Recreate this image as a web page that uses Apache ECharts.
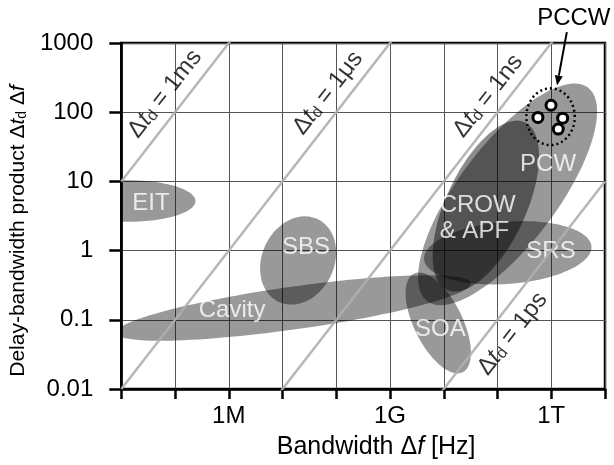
<!DOCTYPE html>
<html>
<head>
<meta charset="utf-8">
<title>Delay-bandwidth product</title>
<script src="https://cdn.jsdelivr.net/npm/echarts@6/dist/echarts.min.js"></script>
<style>
  html, body { margin: 0; padding: 0; background: #fff; }
  #main { width: 614px; height: 465px; }
</style>
</head>
<body>
<div id="main"></div>
<script>
// axis ranges: bandwidth [Hz] and delay-bandwidth product
const xMin = 1e4, xMax = 1e13;
const yMin = 0.01, yMax = 1000;
const xLabelExp = [6, 9, 12];
const xLabelText = ['1M', '1G', '1T'];

// lines of constant delay
const delays = [1e-3, 1e-6, 1e-9, 1e-12];
const delayNames = ['1ms', '1μs', '1ns', '1ps'];
const delayLabelF = [6.5e4, 7.0e7, 6.7e10, 1.9e11];
const delayLabelY = [185, 190, 172, 0.063];

// regions: centre, half axes (decades), tilt in log-log space (deg)
const regionNames = ['EIT', 'SBS', 'Cavity', 'SOA', 'PCW', 'CROW', 'SRS'];
const regionF = [1.35e4, 1.95e7, 1.6e7, 7.9e9, 1.54e11, 6.07e10, 1.55e11];
const regionY = [5.2, 0.72, 0.148, 0.09, 6.5, 4.4, 0.93];
const regionA = [1.25, 0.74, 3.32, 0.85, 2.16, 1.42, 1.56];
const regionB = [0.30, 0.60, 0.31, 0.42, 0.82, 0.70, 0.45];
const regionTilt = [0, 30, 6.2, -53.6, 43.5, 55.5, 3.2];

// region labels
const labelText = ['EIT', 'SBS', 'Cavity', 'SOA', 'PCW', 'CROW\n& APF', 'SRS'];
const labelF = [3.56e4, 2.74e7, 1.15e6, 8.67e9, 8.73e11, 8.4e9, 9.9e11];
const labelY = [4.85, 1.10, 0.139, 0.072, 17.5, 2.96, 0.97];

// PCCW: dotted outline and four cavities
const pccwOutline = [9.7e11, 86, 0.45, 0.41, 0];
const pccwF = [9.9e11, 5.65e11, 1.63e12, 1.35e12];
const pccwY = [126, 84, 82, 57];
const pccwArrow = [1.95e12, 1435, 1.28e12, 243];
const pccwLabel = [2.63e12, 2275];

const FONT = '"Liberation Sans", Arial, Helvetica, sans-serif';

function richStyle(size, color) {
  return {
    i: { fontStyle: 'italic', fontSize: size, fontFamily: FONT, color: color },
    s: { fontSize: Math.round(size * 0.65), fontFamily: FONT, color: color, verticalAlign: 'bottom' }
  };
}

// outline of an ellipse given in log-log space, as pixel points
function ellipsePoints(api, f, y, a, b, tilt) {
  var cx = Math.log10(f), cy = Math.log10(y);
  var th = tilt * Math.PI / 180;
  var pts = [];
  for (var i = 0; i < 120; i++) {
    var t = i / 120 * 2 * Math.PI;
    var lx = cx + a * Math.cos(t) * Math.cos(th) - b * Math.sin(t) * Math.sin(th);
    var ly = cy + a * Math.cos(t) * Math.sin(th) + b * Math.sin(t) * Math.cos(th);
    pts.push(api.coord([Math.pow(10, lx), Math.pow(10, ly)]));
  }
  return pts;
}

function gridClip(params) {
  var cs = params.coordSys;
  return { type: 'rect', shape: { x: cs.x, y: cs.y, width: cs.width, height: cs.height } };
}

function renderRegion(params, api) {
  var name = regionNames[params.dataIndex];
  return {
    type: 'polygon',
    shape: { points: ellipsePoints(api, api.value(0), api.value(1), api.value(2), api.value(3), api.value(4)) },
    style: { fill: name === 'CROW' ? 'rgba(0,0,0,0.45)' : 'rgba(0,0,0,0.4)' },
    clipPath: gridClip(params)
  };
}

function renderOutline(params, api) {
  return {
    type: 'polygon',
    shape: { points: ellipsePoints(api, api.value(0), api.value(1), api.value(2), api.value(3), api.value(4)) },
    style: { fill: 'none', stroke: '#000', lineWidth: 2.5, lineDash: [2, 3] }
  };
}

function renderArrow(params, api) {
  var p0 = api.coord([api.value(0), api.value(1)]);
  var p1 = api.coord([api.value(2), api.value(3)]);
  var dx = p1[0] - p0[0], dy = p1[1] - p0[1];
  var len = Math.sqrt(dx * dx + dy * dy);
  var ux = dx / len, uy = dy / len;
  var head = 10, half = 4;
  var bx = p1[0] - ux * head, by = p1[1] - uy * head;
  var tp = api.coord(pccwLabel);
  return {
    type: 'group',
    children: [
      { type: 'line', shape: { x1: p0[0], y1: p0[1], x2: bx, y2: by }, style: { stroke: '#000', lineWidth: 2 } },
      { type: 'polygon', shape: { points: [p1, [bx - uy * half, by + ux * half], [bx + uy * half, by - ux * half]] }, style: { fill: '#000' } },
      { type: 'text', x: tp[0], y: tp[1], style: { text: 'PCCW', fontSize: 24, fontFamily: FONT, fill: '#000', align: 'center', verticalAlign: 'middle' } }
    ]
  };
}

var regionData = [];
for (var i = 0; i < regionNames.length; i++) {
  regionData.push([regionF[i], regionY[i], regionA[i], regionB[i], regionTilt[i]]);
}

var delaySeries = delays.map(function (d) {
  return {
    type: 'line',
    data: [[xMin, d * xMin], [xMax, d * xMax]],
    showSymbol: false,
    silent: true,
    lineStyle: { color: 'rgba(175,175,175,0.9)', width: 2.5 }
  };
});

var chart = echarts.init(document.getElementById('main'));

var option = {
  animation: false,
  backgroundColor: '#fff',
  grid: { left: 115, right: 9, top: 43, bottom: 72, show: true, borderColor: '#000', borderWidth: 2.5 },
  xAxis: {
    type: 'log',
    min: xMin,
    max: xMax,
    name: 'Bandwidth Δ{i|f} [Hz]',
    nameLocation: 'middle',
    nameGap: 46,
    nameTextStyle: { fontSize: 25, fontFamily: FONT, color: '#000', padding: [0, 0, 0, 26], rich: richStyle(25, '#000') },
    axisLine: { lineStyle: { color: '#000', width: 2.5 } },
    axisTick: { length: 10, lineStyle: { color: '#000', width: 2.5 } },
    axisLabel: {
      fontSize: 24, fontFamily: FONT, color: '#000', margin: 15,
      formatter: function (v) {
        var k = xLabelExp.indexOf(Math.round(Math.log10(v)));
        return k < 0 ? '' : xLabelText[k];
      }
    },
    splitLine: { show: true, lineStyle: { color: '#555', width: 1 } }
  },
  yAxis: {
    type: 'log',
    min: yMin,
    max: yMax,
    name: 'Delay-bandwidth product Δ{i|t}{s|d} Δ{i|f}',
    nameLocation: 'middle',
    nameGap: 82,
    nameTextStyle: { fontSize: 21, fontFamily: FONT, color: '#000', padding: [0, 30, 0, 0], rich: richStyle(21, '#000') },
    axisLine: { lineStyle: { color: '#000', width: 2.5 } },
    axisTick: { length: 12, lineStyle: { color: '#000', width: 2.5 } },
    axisLabel: {
      fontSize: 24, fontFamily: FONT, color: '#000', margin: 28,
      formatter: function (v) { return String(Number(v.toPrecision(6))); }
    },
    splitLine: { show: true, lineStyle: { color: '#555', width: 1 } }
  },
  series: [
    {
      type: 'custom',
      renderItem: renderRegion,
      encode: { x: 0, y: 1 },
      data: regionData,
      silent: true
    }
  ].concat(delaySeries).concat([
    {
      // constant-delay labels
      type: 'scatter',
      symbolSize: 1,
      itemStyle: { color: 'transparent' },
      silent: true,
      data: delayNames.map(function (n, i) { return { value: [delayLabelF[i], delayLabelY[i]], name: n }; }),
      label: {
        show: true, position: 'inside', rotate: 52,
        fontSize: 24, fontFamily: FONT, color: '#000',
        formatter: function (p) { return 'Δ{i|t}{s|d} = ' + p.name; },
        rich: richStyle(24, '#000')
      }
    },
    {
      // region labels
      type: 'scatter',
      symbolSize: 1,
      itemStyle: { color: 'transparent' },
      silent: true,
      data: labelText.map(function (n, i) {
        var item = { value: [labelF[i], labelY[i]], name: n };
        if (n.indexOf('\n') >= 0) item.label = { align: 'left' };
        return item;
      }),
      label: {
        show: true, position: 'inside',
        fontSize: 24, fontFamily: FONT, color: '#fff', lineHeight: 26,
        formatter: '{b}'
      }
    },
    {
      type: 'custom',
      renderItem: renderOutline,
      encode: { x: 0, y: 1 },
      data: [pccwOutline],
      silent: true
    },
    {
      type: 'scatter',
      symbol: 'circle',
      symbolSize: 10,
      silent: true,
      itemStyle: { color: '#fff', borderColor: '#000', borderWidth: 3, opacity: 1 },
      data: pccwF.map(function (f, i) { return [f, pccwY[i]]; })
    },
    {
      type: 'custom',
      renderItem: renderArrow,
      encode: { x: 0, y: 1 },
      data: [pccwArrow],
      clip: false,
      silent: true
    }
  ])
};

chart.setOption(option);
</script>
</body>
</html>
